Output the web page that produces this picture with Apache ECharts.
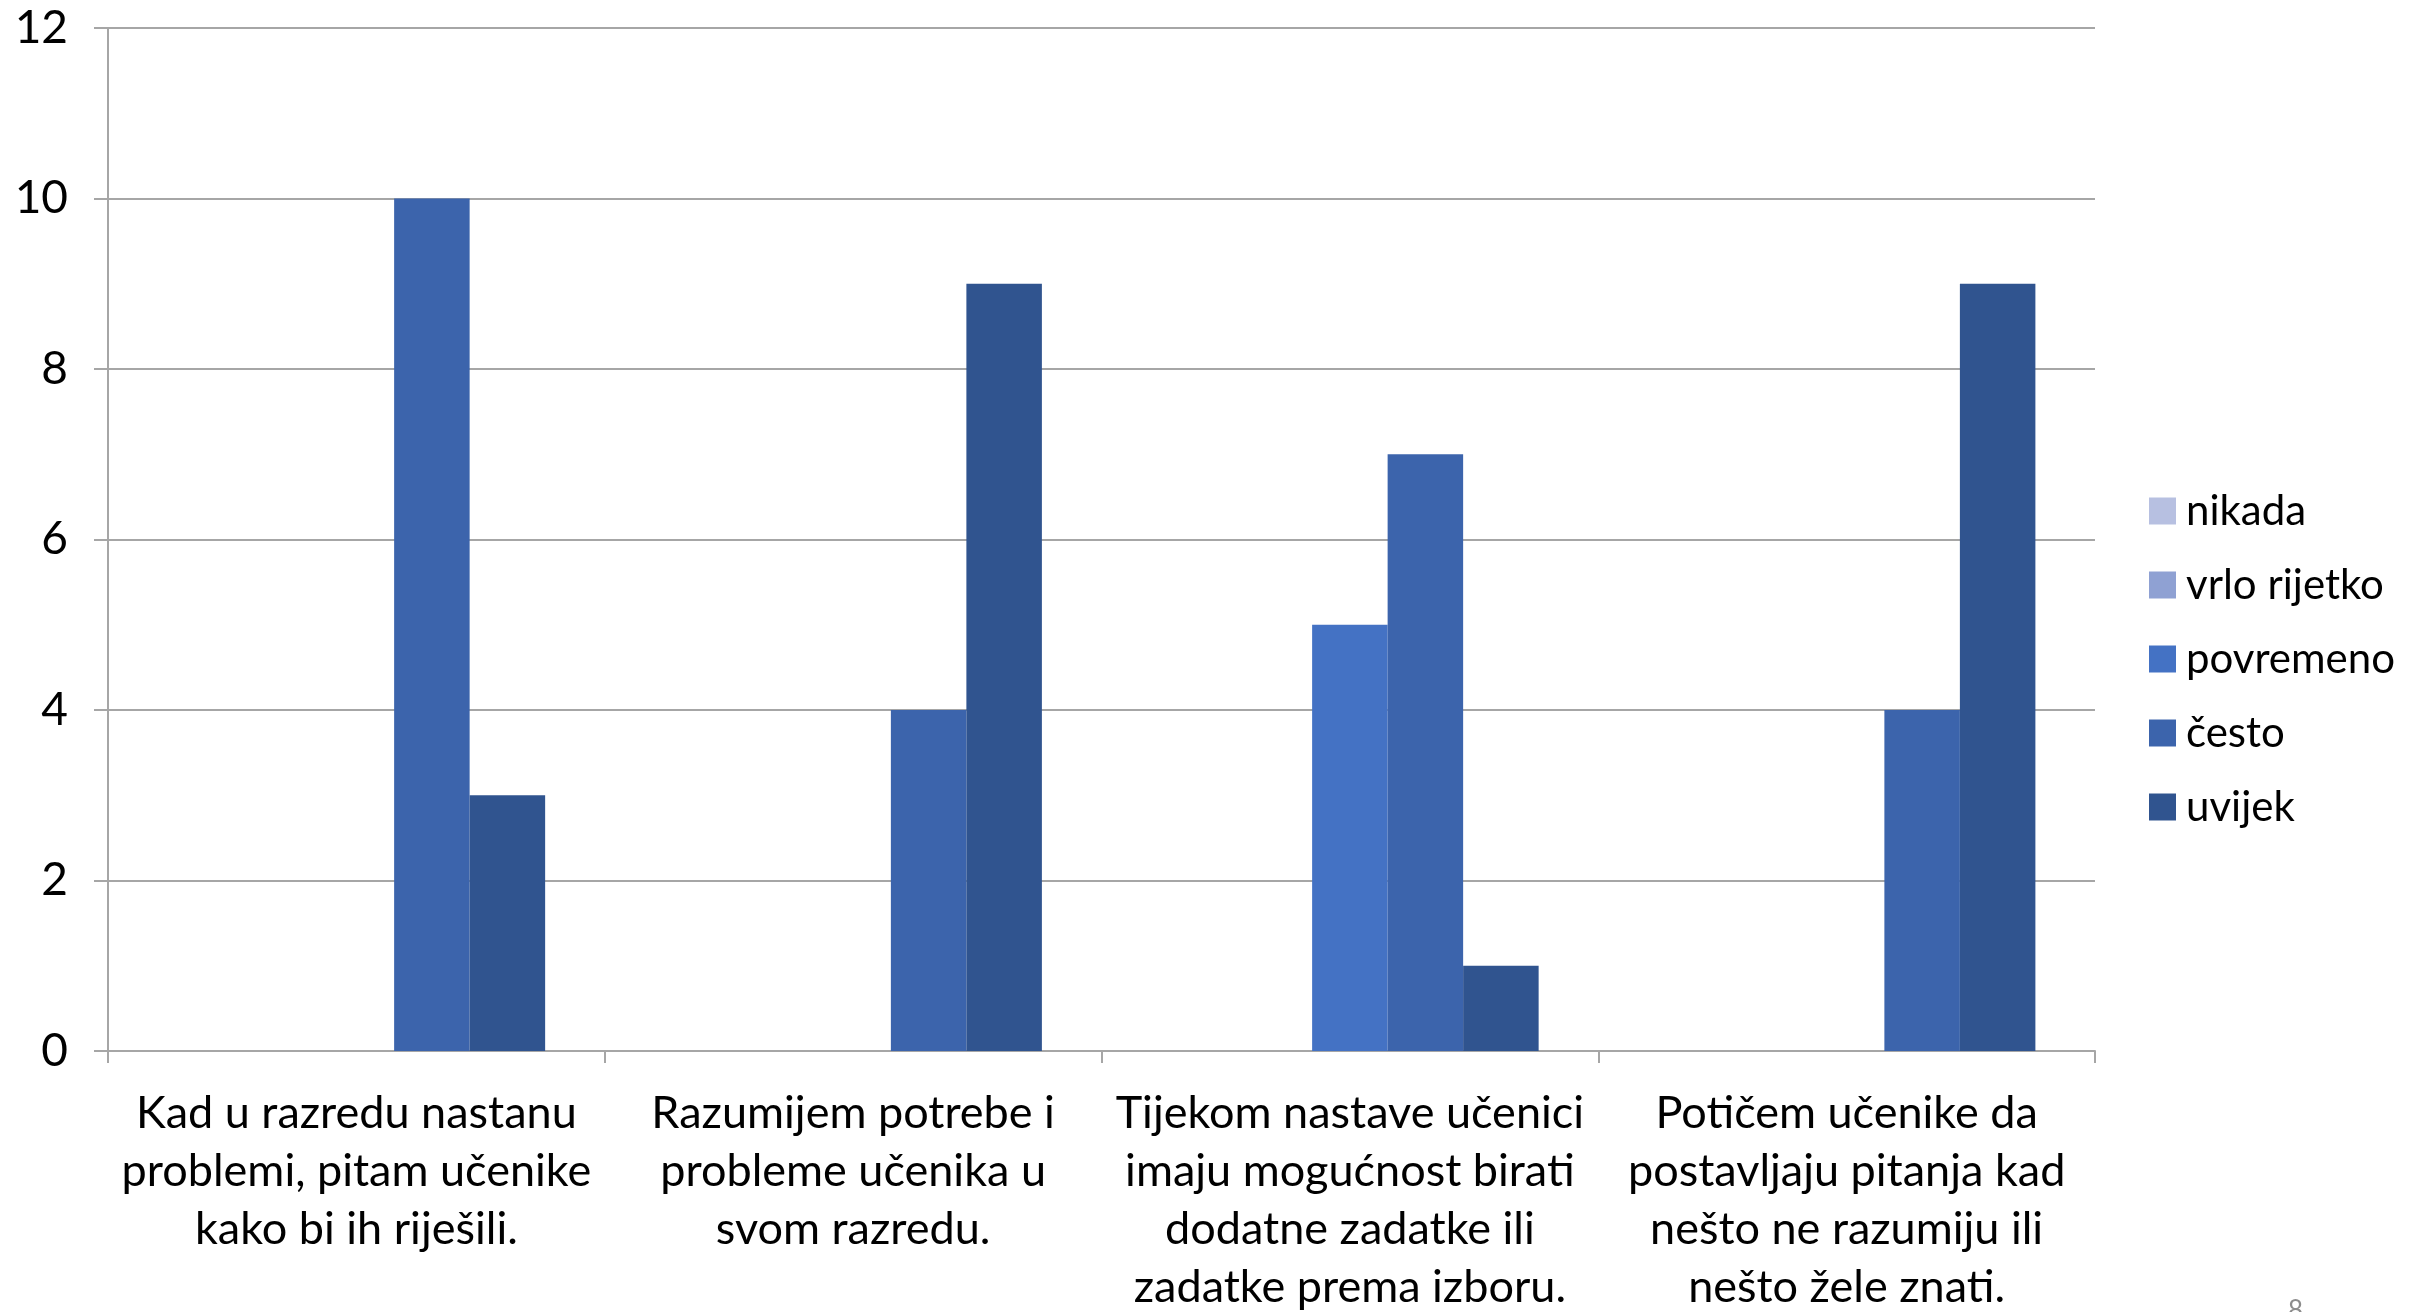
<!DOCTYPE html>
<html>
<head>
<meta charset="utf-8">
<script src="https://cdn.jsdelivr.net/npm/echarts@6/dist/echarts.min.js"></script>
<style>
html,body{margin:0;padding:0;background:#fff;}
#chart{width:2414px;height:1312px;}
</style>
</head>
<body>
<div id="chart"></div>
<script>
const categories = [
  "Kad u razredu nastanu\nproblemi, pitam učenike\nkako bi ih riješili.",
  "Razumijem potrebe i\nprobleme učenika u\nsvom razredu.",
  "Tijekom nastave učenici\nimaju mogućnost birati\ndodatne zadatke ili\nzadatke prema izboru.",
  "Potičem učenike da\npostavljaju pitanja kad\nnešto ne razumiju ili\nnešto žele znati."
];
const seriesNames = ["nikada", "vrlo rijetko", "povremeno", "često", "uvijek"];
const nikada = [0, 0, 0, 0];
const vrloRijetko = [0, 0, 0, 0];
const povremeno = [0, 0, 5, 0];
const cesto = [10, 4, 7, 4];
const uvijek = [3, 9, 1, 9];
const yTicks = [0, 2, 4, 6, 8, 10, 12];
const colors = ["#B7C0E1", "#8FA1D3", "#4472C4", "#3C64AC", "#30548F"];

const values = [nikada, vrloRijetko, povremeno, cesto, uvijek];
const FONT = "Lato, 'Open Sans', sans-serif";

const chart = echarts.init(document.getElementById('chart'));
chart.setOption({
  animation: false,
  textStyle: { fontFamily: FONT },
  grid: { left: 108, right: 319, top: 28, bottom: 261, containLabel: false, outerBoundsMode: 'none' },
  legend: {
    orient: 'vertical',
    left: 2144,
    top: 485,
    itemWidth: 27,
    itemHeight: 27,
    itemGap: 32,
    icon: 'rect',
    data: seriesNames,
    textStyle: { fontSize: 42, lineHeight: 42, color: '#000', fontFamily: FONT, padding: [0, 0, 0, 5] }
  },
  xAxis: {
    type: 'category',
    data: categories,
    axisLine: { lineStyle: { color: '#A6A6A6', width: 2 } },
    axisTick: { show: true, length: 12, lineStyle: { color: '#A6A6A6', width: 2 } },
    axisLabel: { color: '#000', fontSize: 45, lineHeight: 58, margin: 33, interval: 0, fontFamily: FONT }
  },
  yAxis: {
    type: 'value',
    min: 0,
    max: yTicks[yTicks.length - 1],
    interval: yTicks[1] - yTicks[0],
    axisLine: { show: true, lineStyle: { color: '#A6A6A6', width: 2 } },
    axisTick: { show: true, length: 14, lineStyle: { color: '#A6A6A6', width: 2 } },
    splitLine: { lineStyle: { color: '#A6A6A6', width: 2 } },
    axisLabel: { color: '#000', fontSize: 46, margin: 40, fontFamily: FONT }
  },
  series: seriesNames.map((name, i) => ({
    name: name,
    type: 'bar',
    data: values[i],
    barGap: '0%',
    barCategoryGap: '24%',
    itemStyle: { color: colors[i] }
  })),
  graphic: [{
    type: 'text',
    left: 2288,
    top: 1298,
    style: { text: '8', fill: '#8C8C8C', font: "26px " + FONT }
  }]
});
</script>
</body>
</html>
